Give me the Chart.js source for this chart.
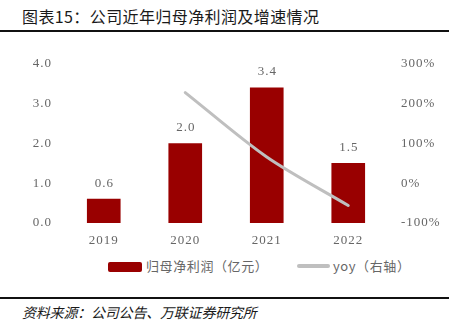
<!DOCTYPE html>
<html>
<head>
<meta charset="utf-8">
<script src="https://cdn.jsdelivr.net/npm/chart.js@4/dist/chart.umd.min.js"></script>
<style>
  html, body { margin: 0; padding: 0; background: #fff; }
  body { width: 461px; height: 328px; position: relative; overflow: hidden; font-family: "Noto Sans CJK SC", sans-serif; }
  .title { position: absolute; left: 22px; top: 4px; font-size: 16px; letter-spacing: 0.4px; color: #1a1a1a; }
  .rule { position: absolute; left: 0; width: 449px; height: 2px; background: #111; }
  .src { position: absolute; left: 22px; top: 302px; font-size: 14px; font-style: italic; color: #1a1a1a; letter-spacing: -0.2px; }
  #wrap { position: absolute; left: 0; top: 40px; width: 461px; height: 210px; }
  .leg { position: absolute; top: 257px; font-size: 13px; color: #666; letter-spacing: 0.6px; white-space: nowrap; line-height: 18px; }
  .sw { position: absolute; }
</style>
</head>
<body>
<div class="title">图表15：公司近年归母净利润及增速情况</div>
<div class="rule" style="top:30px"></div>
<div id="wrap"><canvas id="chart"></canvas></div>
<div class="sw" style="left:108px; top:262px; width:34px; height:10px; background:#990000; border-radius:2px"></div>
<div class="leg" style="left:146px" id="leg0"></div>
<div class="sw" style="left:297px; top:264px; width:33px; height:4px; background:#bfbfbf; border-radius:2px"></div>
<div class="leg" style="left:333px" id="leg1"></div>
<div class="rule" style="top:297px"></div>
<div class="src">资料来源：公司公告、万联证券研究所</div>
<script>
const years = ['2019', '2020', '2021', '2022']
const profit = [0.6, 2.0, 3.4, 1.5]
const yoy = [null, 228, 66, -56]
const leftTicks = [0, 1, 2, 3, 4]
const rightTicks = [-100, 0, 100, 200, 300]
const seriesNames = ['归母净利润（亿元）', 'yoy（右轴）']

document.getElementById('leg0').textContent = seriesNames[0]
document.getElementById('leg1').textContent = seriesNames[1]

const tickFont = { family: 'Liberation Serif', size: 13 }
const grey = '#666666'

// a bit of letter spacing like the original song-style digits
const spacing = {
    id: 'spacing',
    beforeLayout(chart) { chart.ctx.letterSpacing = '1px' },
    beforeDraw(chart) { chart.ctx.letterSpacing = '1px' }
}

// value labels above the bars
const barLabels = {
    id: 'barLabels',
    afterDatasetsDraw(chart) {
        const ctx = chart.ctx
        const meta = chart.getDatasetMeta(0)
        ctx.save()
        ctx.font = '13px "Liberation Serif"'
        ctx.fillStyle = grey
        ctx.textAlign = 'center'
        ctx.textBaseline = 'middle'
        meta.data.forEach((bar, i) => {
            ctx.fillText(profit[i].toFixed(1), bar.x + 0.5, bar.y - 16)
        })
        ctx.restore()
    }
}

new Chart(document.getElementById('chart'), {
    data: {
        labels: years,
        datasets: [{
            type: 'bar',
            label: seriesNames[0],
            data: profit,
            yAxisID: 'y',
            backgroundColor: '#990000',
            barThickness: 33,
            order: 1
        }, {
            type: 'line',
            label: seriesNames[1],
            data: yoy,
            yAxisID: 'y1',
            borderColor: '#bfbfbf',
            borderWidth: 3,
            borderCapStyle: 'round',
            pointRadius: 0,
            tension: 0.3,
            order: 0
        }]
    },
    options: {
        responsive: true,
        maintainAspectRatio: false,
        animation: false,
        layout: { padding: { top: 24, left: 0, right: 0, bottom: 0 } },
        plugins: {
            tooltip: { enabled: false },
            legend: { display: false }
        },
        scales: {
            x: {
                grid: { display: false, drawTicks: false },
                border: { display: false },
                ticks: { color: grey, font: tickFont, padding: 10 },
                afterFit(s) { s.height = 27 }
            },
            y: {
                position: 'left',
                min: 0, max: 4,
                afterBuildTicks(s) { s.ticks = leftTicks.map(v => ({ value: v })) },
                grid: { display: false, drawTicks: false },
                border: { display: false },
                ticks: { color: grey, font: tickFont, padding: 11, callback: v => v.toFixed(1) },
                afterFit(s) { s.width = 63 }
            },
            y1: {
                position: 'right',
                min: -100, max: 300,
                afterBuildTicks(s) { s.ticks = rightTicks.map(v => ({ value: v })) },
                grid: { display: false, drawTicks: false },
                border: { display: false },
                ticks: { color: grey, font: tickFont, padding: 12, callback: v => v + '%' },
                afterFit(s) { s.width = 72 }
            }
        }
    },
    plugins: [spacing, barLabels]
})
</script>
</body>
</html>
